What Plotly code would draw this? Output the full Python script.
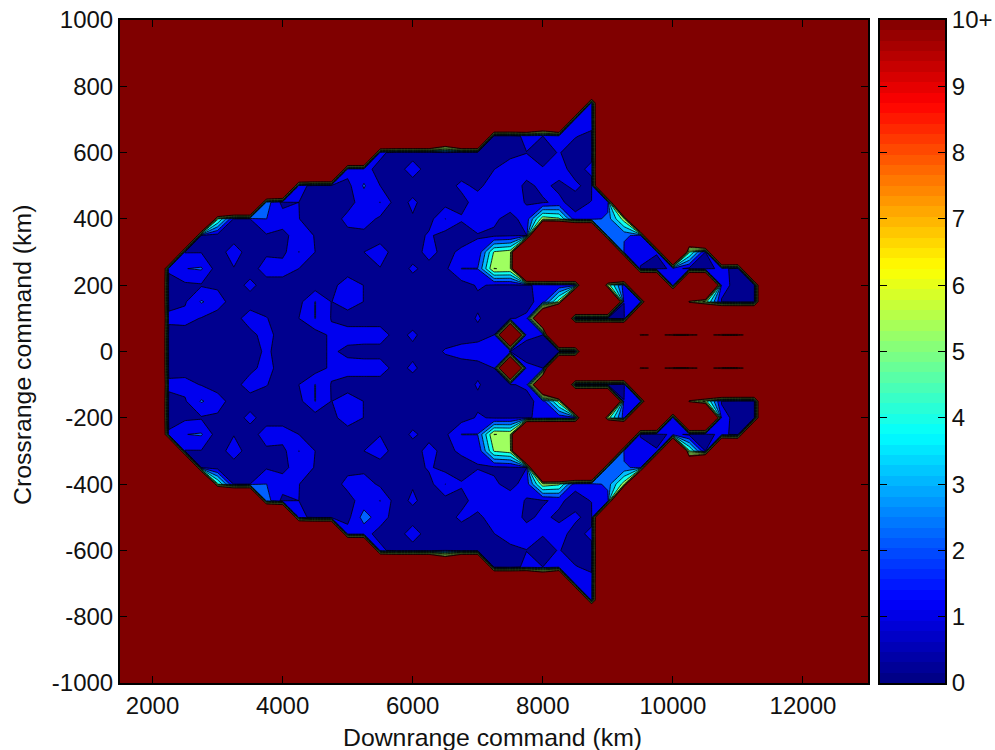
import numpy as np
import plotly.graph_objects as go

R = 40  # saturated "10+" cells
x_grid = list(range(1500, 13001, 250))
y_upper = list(range(0, 1001, 50))
pad_left, pad_right = 3, 7

row_0 = [.5,.5,.5,.5,.5,.5,1.2,.5,.5,.5,1.2,.7,.6,.6,.5,.7,.5,1.1,1.4,1.4,1.3,.98,.6,.6,.9,.9]+[R]*11
row_50 = [.5,.6,.5,.5,.5,.7,1.4,.5,.5,.5,1.2,1.5,1.5,1.5,.6,1.2,.5,.5,.5,.7,1.0,30,1.2,1.0]+[R]*5+[9,11,9,9,11,9,9,12]
row_100 = [1.3,1.3,.95,.5,.6,1.5,1.05,.5,1.0,2.03,.95,.5,.5,.5,.5,.5,.5,.5,.5,1.1,.5,.9,1.2,22,R,.9,.9,.9,.5]+[R]*8
row_150 = [.6,.9,2.1,1.5,.5,.5,.5,.5,.7,2.03,.98,1.5,.98,.5,.5,.5,.5,.5,.5,.8,.5,.5,.6,1.5,5.5,R,R,R,1.05,1.3,R,R,9,5.4,.9,.6,.6]
row_200 = [.5,.8,.9,.8,.5,1.3,.5,.5,.5,.5,.7,1.5,.98,.5,.5,.6,.5,.5,.6,1.1,.9,.9,.95,1.1,1.3,1.2,R,5.5,1.5,R,R,1.2,R,R,1.4,.6,.6]
row_250 = [1.2,1.98,2.1,.5,.95,.5,1.5,1.5,1.0,.5,.5,.5,.5,.95,.5,1.15,.7,.8,2.02,2.02,6.02,5.9]+[R]*7+[.9,.5,1.3,.8,.6,1.3,.6,R]
row_300 = [R,.95,.95,.5,1.5,.5,.8,.7,2.02,1.0,.5,.5,1.0,1.5,.5,.6,1.3,.7,1.2,1.2,5.1,5.5]+[R]*6+[1.5,1.5,1.1,R,5.2,1.0,R,R,R]
row_350 = [R,R,.9,.6,.5,.5,.9,.7,1.5,.95,.5,.7,.7,.5,.5,.5,1.15,.6,.5,.95,.8,.9,.98,R,R,R,R,2.05,2.3,1.5,R,R,20,R,R,R,R]
row_400 = [R]*3+[5.2,.9,1.0,2.01,1.5,1.02,.5,.5,1.3,1.5,.8,.5,.9,.6,2.02,1.1,1.4,1.2,.6,1.5,5.6,5.2,1.3,1.2,2.5,5.5]+[R]*8
row_450 = [R]*6+[2.5,.7,1.0,.5,.5,.6,1.5,2.02,.5,1.2,.5,.6,.7,1.4,1.5,1.6,.9,.9,1.2,.6,1.05,1.2]+[R]*9
row_500 = [R]*8+[1.5,.5,.5,.7,2.1,1.0,.5,.5,.5,.6,1.2,.8,1.4,1.5,.8,1.2,.8,1.2,.6]+[R]*10
row_550 = [R]*11+[1.4,1.4,.6,.5,1.5,.5,.5,.5,.6,.98,1.5,1.4,1.05,1.4,.6,1.3]+[R]*10
row_600 = [R]*13+[1.3,.5,.5,.5,1,.5,.5,.5,.7,.98,.7,1.05,.6,.6]+[R]*10
row_650 = [R]*17+[25,R,R,.6,.5,1.3,1,1.5,1.05,.8]+[R]*10
row_700 = [R]*23+[30,R,1.3,1.4]+[R]*10
row_750 = [R]*26+[1.4]+[R]*10
row_top = [R]*37

upper_rows = [row_0,row_50,row_100,row_150,row_200,row_250,row_300,row_350,row_400,
              row_450,row_500,row_550,row_600,row_650,row_700,row_750,
              row_top,row_top,row_top,row_top,row_top]
for r in upper_rows:
    assert len(r) == 37, len(r)

full = [[R]*pad_left + list(r) + [R]*pad_right for r in upper_rows]
z = np.array(full[:0:-1] + full, dtype=float)
y_grid = [-v for v in y_upper[:0:-1]] + y_upper
# the lower half is not a perfect mirror: larger lighter patch near (5250, -500)
z[y_grid.index(-500)][x_grid.index(5250)] = 2.4
z[y_grid.index(-500)][x_grid.index(5500)] = 1.5

level_colors = ["#00008F","#0000EF","#0060FF","#00BFFF","#10FFEF",
                "#9FFF60","#9FFF60","#9FFF60","#9FFF60","#9FFF60","#800000"]
n = len(level_colors)
fill_scale = []
for i, c in enumerate(level_colors):
    fill_scale += [[i/n, c], [(i+1)/n, c]]

def jet(i):
    v = (i + 0.5)/64*4
    return tuple(float(np.clip(min(v-a, b-v), 0, 1)) for a, b in ((1.5, 4.5), (0.5, 3.5), (-0.5, 2.5)))
jet64 = ["rgb(%d,%d,%d)" % tuple(round(255*c) for c in jet(i)) for i in range(64)]
band_scale = []
for i, c in enumerate(jet64):
    band_scale += [[i/64, c], [(i+1)/64, c]]
bands = [[i] for i in range(64)]

x_ticks = [2000,4000,6000,8000,10000,12000]
y_ticks = list(range(-1000, 1001, 200))
y_ticktext = [str(v) for v in y_ticks]
cb_ticks = list(range(11))
cb_ticktext = [str(i) for i in range(10)]+["10+"]

TICKFONT = dict(family="Liberation Sans, Arial, sans-serif", size=24, color="#111111")
LABELFONT = dict(family="Liberation Sans, Arial, sans-serif", size=24.8, color="#111111")
LINE = dict(color="black", width=0.8, smoothing=0)
THIN = dict(color="black", width=0.5, smoothing=0)
fig = go.Figure()
fig.add_trace(go.Contour(x=x_grid, y=y_grid, z=z, colorscale=fill_scale, showscale=False,
                         autocontour=False, zauto=False, zmin=0, zmax=n,
                         contours=dict(start=0, end=10, size=1, coloring="fill", showlines=False),
                         line=dict(width=0, smoothing=0), hoverinfo="skip"))
fig.add_trace(go.Contour(x=x_grid, y=y_grid, z=z, showscale=False, autocontour=False,
                         contours=dict(start=1, end=6, size=1, coloring="none"),
                         line=LINE, hoverinfo="skip"))
fig.add_trace(go.Contour(x=x_grid, y=y_grid, z=z, showscale=False, autocontour=False,
                         contours=dict(start=7, end=9, size=1, coloring="none"),
                         line=THIN, hoverinfo="skip"))
fig.add_trace(go.Contour(x=x_grid, y=y_grid, z=z, showscale=False, autocontour=False,
                         contours=dict(start=10, end=10, size=1, coloring="none"),
                         line=LINE, hoverinfo="skip"))
fig.add_trace(go.Heatmap(z=bands, x0=0, dx=1, y0=10/128, dy=10/64, colorscale=band_scale,
                         zmin=0, zmax=64, showscale=False, xaxis="x2", yaxis="y2", hoverinfo="skip"))

W, H = 995, 750
def fx(px): return px/W
def fy(py): return 1-py/H
TOP, BOTTOM = 20, 683
axis = dict(automargin=False, showline=True, linecolor="black", linewidth=2, mirror="ticks", ticks="inside",
            ticklen=7, tickcolor="black", tickwidth=1, showgrid=False, zeroline=False, tickfont=TICKFONT,
            ticklabeloverflow="allow")
fig.update_layout(
    width=W, height=H, autosize=False, margin=dict(l=0, r=0, t=0, b=0),
    paper_bgcolor="white", plot_bgcolor="white", showlegend=False,
    xaxis=dict(axis, domain=[fx(120), fx(868)], range=[1500, 13000], tickvals=x_ticks, tickformat="d"),
    yaxis=dict(axis, domain=[fy(BOTTOM), fy(TOP)], range=[-1000, 1000],
               tickvals=y_ticks, ticktext=y_ticktext),
    xaxis2=dict(automargin=False, domain=[fx(880), fx(945)], range=[-0.5, 0.5], showticklabels=False, ticks="",
                showline=True, linewidth=2, linecolor="black", mirror=True, showgrid=False,
                zeroline=False, anchor="y2"),
    yaxis2=dict(axis, domain=[fy(BOTTOM), fy(TOP)], range=[0, 10], side="right", anchor="x2",
                tickvals=cb_ticks, ticktext=cb_ticktext),
    annotations=[
        dict(text="Downrange command (km)", x=fx(492), y=fy(737), xref="paper", yref="paper",
             showarrow=False, font=LABELFONT, xanchor="center", yanchor="middle"),
        dict(text="Crossrange command (km)", x=fx(22), y=fy(355), xref="paper", yref="paper",
             showarrow=False, font=LABELFONT, textangle=-90, xanchor="center", yanchor="middle"),
    ],
)
fig.write_html("out.html", config={"displayModeBar": False},
               post_script="document.body.style.margin='0';document.documentElement.style.overflow='hidden';")
